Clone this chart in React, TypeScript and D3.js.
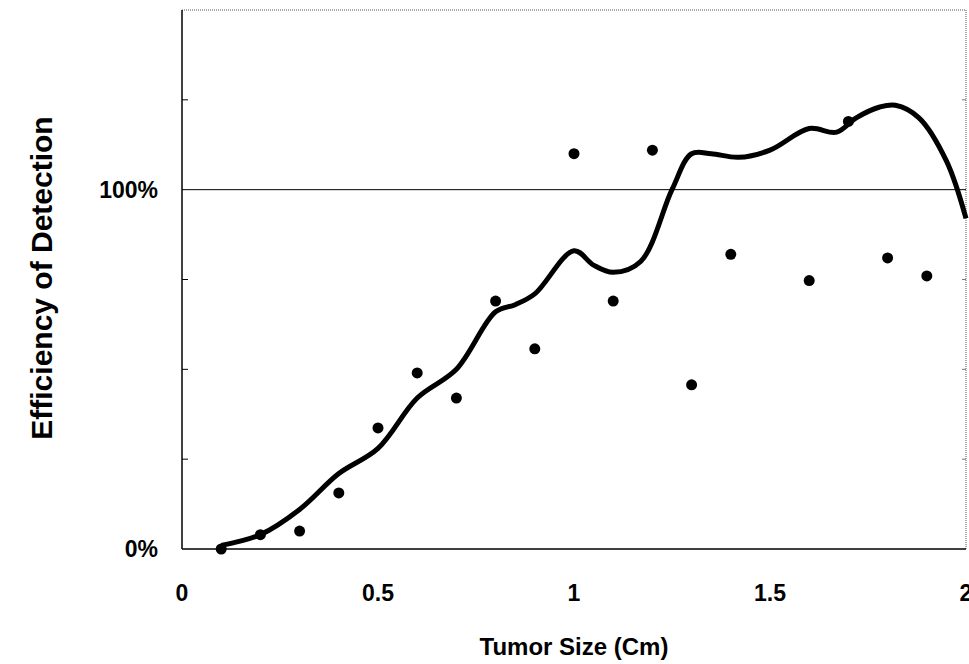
import React from "react";
import * as d3 from "d3";

const pointX = [0.1, 0.2, 0.3, 0.4, 0.5, 0.6, 0.7, 0.8, 0.9, 1.0, 1.1, 1.2, 1.3, 1.4, 1.6, 1.7, 1.8, 1.9];
const pointY = [0, 4, 5, 15.6, 33.7, 49, 42, 69, 55.7, 110, 69, 111, 45.7, 82, 74.7, 119, 81, 76];

const curveX = [0.1, 0.2, 0.3, 0.4, 0.5, 0.6, 0.7, 0.8, 0.85, 0.9, 1.0, 1.05, 1.1, 1.17, 1.25, 1.3, 1.35, 1.42, 1.5, 1.6, 1.67, 1.72, 1.78, 1.82, 1.88, 1.95, 2.0];
const curveY = [1, 4, 11, 21, 28, 42, 50, 66, 68, 71, 83, 79, 77, 80, 100, 110, 110, 109, 111, 117, 116, 120, 123, 123.5, 120, 108, 92];

const xTicks = [0, 0.5, 1, 1.5, 2];
const xTickLabels = ["0", "0.5", "1", "1.5", "2"];
const yTicks = [0, 100];
const yTickLabels = ["0%", "100%"];
const yMinor = [25, 50, 75, 125];

export default function App() {
  const W = 969, H = 664;
  const left = 182, right = 966, top = 10, bottom = 549;
  const x = d3.scaleLinear().domain([0, 2]).range([left, right]);
  const y = d3.scaleLinear().domain([0, 150]).range([bottom, top]);
  const line = d3.line<number>().x((_, i) => x(curveX[i])).y((d) => y(d)).curve(d3.curveCatmullRom.alpha(0.5));
  const font = "Arial, 'Liberation Sans', sans-serif";
  return (
    <svg width={W} height={H} style={{ position: "absolute", left: 0, top: 0, background: "#fff" }}>
      <line x1={left} x2={right} y1={top} y2={top} stroke="#555" strokeWidth={1} strokeDasharray="1 1" />
      <line x1={right} x2={right} y1={top} y2={bottom} stroke="#555" strokeWidth={1} strokeDasharray="1 1" />
      <line x1={left} x2={left} y1={top} y2={bottom} stroke="#000" strokeWidth={1.5} />
      <line x1={left} x2={right} y1={bottom} y2={bottom} stroke="#000" strokeWidth={1.5} />
      <line x1={left} x2={right} y1={y(100)} y2={y(100)} stroke="#000" strokeWidth={1} />
      {yMinor.map((v) => (
        <g key={v}>
          <line x1={left} x2={left + 6} y1={y(v)} y2={y(v)} stroke="#000" />
          <line x1={right - 4} x2={right} y1={y(v)} y2={y(v)} stroke="#777" />
        </g>
      ))}
      {xTicks.map((v, i) => (
        <text key={v} x={x(v)} y={601} textAnchor="middle" fontFamily={font} fontWeight="bold" fontSize={23}>{xTickLabels[i]}</text>
      ))}
      {yTicks.map((v, i) => (
        <text key={v} x={158} y={y(v) + 8} textAnchor="end" fontFamily={font} fontWeight="bold" fontSize={23}>{yTickLabels[i]}</text>
      ))}
      <text x={574} y={655} textAnchor="middle" fontFamily={font} fontWeight="bold" fontSize={24}>Tumor Size (Cm)</text>
      <text transform="translate(52,278) rotate(-90)" textAnchor="middle" fontFamily={font} fontWeight="bold" fontSize={30}>Efficiency of Detection</text>
      <path d={line(curveY) || ""} fill="none" stroke="#000" strokeWidth={5} strokeLinejoin="round" />
      {pointY.map((v, i) => (
        <circle key={i} cx={x(pointX[i])} cy={y(v)} r={5.5} fill="#000" />
      ))}
    </svg>
  );
}
